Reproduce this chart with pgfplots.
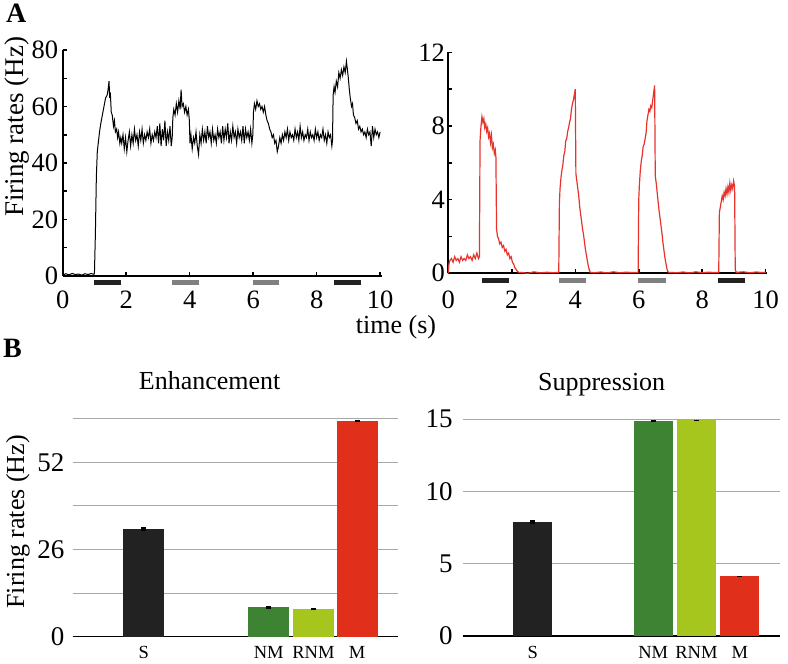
\documentclass[border=0pt]{standalone}
\usepackage{pgfplots}
\pgfplotsset{compat=1.18}
\usepackage{fontspec}
\setmainfont{Liberation Serif}
\definecolor{cS}{HTML}{222222}
\definecolor{cNM}{HTML}{3E8233}
\definecolor{cRNM}{HTML}{A6C61E}
\definecolor{cM}{HTML}{E0301C}
\definecolor{cRed}{HTML}{E8322C}
\definecolor{cGray}{HTML}{808080}
\definecolor{cGrid}{HTML}{A8A8A8}
\newcommand\fs[1]{\fontsize{#1}{#1}\selectfont}
\pgfplotsset{
 traceax/.style={
  scale only axis, axis x line=bottom, axis y line=left,
  axis line style={-, line width=2pt, black},
  tick align=inside, major tick length=4pt, minor tick length=4pt,
  tick style={black, line width=1.5pt},
  xmin=0, xmax=10.05, ymin=0, xtick={0,2,...,10},
  clip=false,
  /pgf/number format/assume math mode=true,
  ticklabel style={font=\fs{26.5}, inner sep=1pt},
  xticklabel style={anchor=center},
  yticklabel style={anchor=east},
 },
 barax/.style={
  scale only axis, axis x line=bottom, axis y line=left,
  x axis line style={-, line width=1.3pt, black},
  y axis line style={draw=none},
  ymajorgrids, grid style={cGrid, line width=0.9pt},
  ytick style={draw=none}, xtick style={draw=none},
  ymin=0, clip=false,
  /pgf/number format/assume math mode=true,
  yticklabel style={font=\fs{27}, inner sep=1pt, anchor=east},
  xticklabel style={font=\fs{18.5}, inner sep=1pt, anchor=center},
 },
 barplot/.style={ybar, bar shift=0pt, draw=none, fill=#1,
  error bars/.cd, y dir=both, y explicit, error bar style={line width=5pt, black}, error mark=none},
}
\begin{document}
\begin{tikzpicture}
\path[use as bounding box] (0pt,0pt) rectangle (788pt,664pt);
% ---------------- A left ----------------
\begin{axis}[traceax, at={(62.7pt,388pt)}, anchor=south west, width=319pt, height=226pt,
  ymax=80, ytick={0,20,...,80}, minor ytick={10,30,50,70},
  xticklabel style={yshift=-24pt}, yticklabel style={xshift=-3.4pt}]
\addplot[black, line width=1pt] coordinates {
(0,0.3)(0.1,0.8)(0.2,0.4)(0.3,0.9)(0.4,0.5)(0.5,0.7)(0.6,0.3)(0.7,0.8)(0.8,0.5)(0.9,0.9)(0.98,0.6)
(1.00,1)(1.03,15)(1.06,35)(1.09,44)(1.12,47)(1.16,51)(1.20,54)(1.25,57)(1.30,60)(1.35,63)(1.40,64)(1.43,66)(1.46,69)(1.48,63)(1.50,65)(1.53,58)(1.56,57)(1.60,53)(1.63,55)(1.66,51)(1.70,52)(1.73,49)(1.76,51)(1.80,47)(1.83,49)
(1.86,47)(1.90,50)(1.94,45)(1.98,49)(2.02,44)(2.06,48)(2.10,51)(2.14,46)(2.18,50)(2.22,47)(2.26,52)(2.30,48)(2.34,50)(2.38,46)(2.42,51)(2.46,48)(2.50,52)(2.54,47)(2.58,50)(2.62,48)(2.66,51)(2.70,49)(2.74,52)(2.78,47)(2.82,50)(2.86,48)(2.90,51)(2.94,49)(2.98,53)(3.02,47)(3.06,54)(3.10,46)(3.14,52)(3.18,48)(3.22,55)(3.26,46)(3.30,51)(3.34,48)(3.38,53)(3.42,46)(3.45,49)
(3.47,56)(3.50,59)(3.54,57)(3.58,61)(3.62,58)(3.66,62)(3.70,59)(3.73,66)(3.76,60)(3.80,61)(3.84,58)(3.88,60)(3.92,57)(3.96,59)(3.99,55)
(4.01,47)(4.04,50)(4.08,45)(4.12,49)(4.16,47)(4.20,51)(4.24,46)(4.28,43)(4.32,50)(4.36,47)(4.40,52)(4.44,48)(4.48,51)(4.52,47)(4.56,53)(4.60,49)(4.64,51)(4.68,47)(4.72,52)(4.76,48)(4.80,50)(4.84,47)(4.88,52)(4.92,49)(4.96,51)(5.00,47)(5.04,53)(5.08,48)(5.12,52)(5.16,49)(5.20,54)(5.24,47)(5.28,51)(5.32,48)(5.36,53)(5.40,49)(5.44,51)(5.48,47)(5.52,52)(5.56,49)(5.60,51)(5.64,48)(5.68,53)(5.72,47)(5.76,52)(5.80,49)(5.84,51)(5.88,48)(5.92,52)(5.96,47)(5.99,50)
(6.01,58)(6.04,61)(6.08,59)(6.12,62)(6.16,60)(6.20,61)(6.24,59)(6.28,60)(6.32,58)(6.36,60)(6.40,57)(6.44,55)(6.48,54)(6.52,52)(6.56,51)(6.60,49)(6.64,50)(6.68,47)(6.72,48)(6.76,44)(6.80,46)(6.84,49)(6.88,47)(6.92,50)(6.96,48)(7.00,51)(7.04,49)(7.08,52)(7.12,48)(7.16,51)(7.20,49)(7.24,50)(7.28,48)(7.32,52)(7.36,49)(7.40,51)(7.44,48)(7.48,53)(7.52,49)(7.56,51)(7.60,48)(7.64,50)(7.68,49)(7.72,52)(7.76,48)(7.80,51)(7.84,49)(7.88,50)(7.92,48)(7.96,52)(8.00,49)(8.04,51)(8.08,48)(8.12,50)(8.16,49)(8.20,52)(8.24,48)(8.28,50)(8.32,47)(8.36,51)(8.40,49)(8.44,50)(8.48,46)(8.50,48)
(8.52,64)(8.55,67)(8.58,65)(8.62,69)(8.66,67)(8.70,72)(8.74,70)(8.78,73)(8.82,71)(8.86,74)(8.90,72)(8.94,76)(8.97,73)(9.00,70)(9.03,66)(9.06,63)(9.10,60)(9.13,61)(9.16,57)(9.20,56)(9.24,54)(9.28,55)(9.32,52)(9.36,53)(9.40,51)(9.44,52)(9.48,50)(9.52,51)(9.56,49)(9.60,52)(9.64,50)(9.68,51)(9.72,46)(9.76,53)(9.80,49)(9.84,52)(9.88,50)(9.92,51)(9.96,49)(10.00,51)
};
\addplot[cS, line width=5pt] coordinates {(1,-2.3)(1.85,-2.3)};
\addplot[cGray, line width=5pt] coordinates {(3.45,-2.3)(4.3,-2.3)};
\addplot[cGray, line width=5pt] coordinates {(5.98,-2.3)(6.8,-2.3)};
\addplot[cS, line width=5pt] coordinates {(8.55,-2.3)(9.39,-2.3)};
\node[font=\bfseries\fs{28}] at (axis description cs:-0.146,1.164) {A};
\node[font=\fs{27}, rotate=90, anchor=center, inner sep=1pt] at (axis description cs:-0.1417,0.66) {Firing rates (Hz)};
\node[font=\fs{26}, anchor=center, inner sep=1pt] at (axis description cs:1.045,-0.2257) {time (s)};
\end{axis}
% ---------------- A right ----------------
\begin{axis}[traceax, at={(448.3pt,390.7pt)}, anchor=south west, width=319pt, height=221pt,
  ymax=12, ytick={0,4,8,12}, minor ytick={2,6,10},
  xticklabel style={yshift=-26.7pt}, yticklabel style={xshift=-2.3pt}]
\addplot[cRed, line width=1.2pt] coordinates {
(0.00,0.0)(0.02,0.5)(0.05,0.7)(0.10,0.8)(0.15,0.6)(0.20,0.9)(0.25,0.7)(0.30,0.8)(0.35,0.6)(0.40,0.9)(0.45,0.7)(0.50,0.8)(0.55,0.7)(0.60,1.0)(0.65,0.8)(0.70,0.9)(0.75,0.7)(0.80,1.0)(0.85,0.8)(0.90,1.1)(0.95,0.8)(0.98,0.9)
(1.00,7.2)(1.03,8.0)(1.06,8.5)(1.09,8.2)(1.12,8.4)(1.15,7.9)(1.18,8.1)(1.21,7.7)(1.24,7.9)(1.27,7.4)(1.30,7.6)(1.33,7.1)(1.36,7.5)(1.39,6.8)(1.42,7.0)(1.45,6.5)(1.48,6.7)(1.50,6.3)
(1.52,2.4)(1.55,2.0)(1.58,1.9)(1.62,1.6)(1.66,1.7)(1.70,1.4)(1.74,1.5)(1.78,1.2)(1.82,1.3)(1.86,1.0)(1.90,1.1)(1.94,0.8)(1.98,0.9)(2.02,0.6)(2.06,0.5)(2.10,0.3)(2.14,0.2)(2.18,0.1)(2.22,0.05)
(2.3,0.05)(2.5,0.0)(2.7,0.08)(2.9,0.02)(3.1,0.06)(3.3,0.03)(3.48,0.05)
(3.50,3.8)(3.52,4.6)(3.55,5.2)(3.58,5.6)(3.61,5.9)(3.64,6.4)(3.67,6.6)(3.70,7.2)(3.73,7.3)(3.76,7.7)(3.79,7.9)(3.82,8.2)(3.85,8.4)(3.88,8.9)(3.91,9.2)(3.94,9.4)(3.97,9.7)(4.00,10.0)
(4.02,5.4)(4.05,5.0)(4.08,4.6)(4.11,4.2)(4.14,3.6)(4.17,3.2)(4.20,2.8)(4.23,2.4)(4.26,2.1)(4.29,1.7)(4.32,1.3)(4.35,1.0)(4.38,0.7)(4.41,0.4)(4.44,0.2)(4.47,0.05)
(4.6,0.03)(4.8,0.07)(5.0,0.02)(5.2,0.08)(5.4,0.03)(5.6,0.06)(5.8,0.04)(5.98,0.05)
(6.00,4.0)(6.02,4.8)(6.05,5.6)(6.08,6.1)(6.11,6.4)(6.14,6.9)(6.17,7.0)(6.20,7.3)(6.23,7.6)(6.26,8.3)(6.29,8.6)(6.32,8.9)(6.35,8.8)(6.38,9.1)(6.41,9.0)(6.44,9.4)(6.47,9.8)(6.50,10.2)
(6.52,5.3)(6.55,4.9)(6.58,4.4)(6.61,3.9)(6.64,3.4)(6.67,3.0)(6.70,2.6)(6.73,2.2)(6.76,1.7)(6.79,1.3)(6.82,0.9)(6.85,0.6)(6.88,0.3)(6.91,0.1)(6.95,0.05)
(7.2,0.03)(7.4,0.07)(7.6,0.02)(7.8,0.08)(8.0,0.03)(8.2,0.06)(8.4,0.04)(8.52,0.05)
(8.54,3.3)(8.57,3.6)(8.60,3.9)(8.63,4.2)(8.66,4.0)(8.69,4.4)(8.72,4.2)(8.75,4.6)(8.78,4.3)(8.81,4.7)(8.84,4.4)(8.87,4.9)(8.90,4.5)(8.93,4.8)(8.96,4.6)(8.99,5.0)(9.02,4.7)
(9.04,0.2)(9.07,0.05)(9.3,0.08)(9.5,0.03)(9.7,0.07)(9.9,0.04)(10.0,0.06)
};
\addplot[cS, line width=5pt] coordinates {(1.05,-0.38)(1.92,-0.38)};
\addplot[cGray, line width=5pt] coordinates {(3.48,-0.38)(4.34,-0.38)};
\addplot[cGray, line width=5pt] coordinates {(5.98,-0.38)(6.85,-0.38)};
\addplot[cS, line width=5pt] coordinates {(8.5,-0.38)(9.35,-0.38)};
\end{axis}
% ---------------- B left ----------------
\begin{axis}[barax, at={(72.7pt,27.3pt)}, anchor=south west, width=325.3pt, height=218pt,
  xmin=-1.606, xmax=5.753, ymax=65, ytick={0,13,26,39,52,65}, yticklabels={0,,26,,52,},
  xtick={0,2.83,3.84,4.83}, xticklabels={S,NM,RNM,M},
  xticklabel style={yshift=-14pt}, yticklabel style={xshift=-5pt}]
\addplot[bar width=0.92, barplot=cS] coordinates {(0,32.2) +- (0,0.6)};
\addplot[bar width=0.92, barplot=cNM] coordinates {(2.83,8.8) +- (0,0.45)};
\addplot[bar width=0.92, barplot=cRNM] coordinates {(3.84,8.2) +- (0,0.3)};
\addplot[bar width=0.92, barplot=cM] coordinates {(4.83,64.4) +- (0,0.3)};
\node[font=\bfseries\fs{28}] at (axis description cs:-0.185,1.324) {B};
\node[font=\fs{26}, rotate=90, anchor=center, inner sep=1pt] at (axis description cs:-0.1681,0.527) {Firing rates (Hz)};
\node[font=\fs{26}, anchor=base, inner sep=1pt] at (axis description cs:0.421,1.1317) {Enhancement};
\end{axis}
% ---------------- B right ----------------
\begin{axis}[barax, at={(462.7pt,28pt)}, anchor=south west, width=317.3pt, height=217pt,
  xmin=-1.62, xmax=5.71, ymax=15, ytick={0,5,10,15},
  xtick={0,2.78,3.78,4.78}, xticklabels={S,NM,RNM,M},
  xticklabel style={yshift=-14.5pt}, yticklabel style={xshift=-6.7pt}]
\addplot[bar width=0.9, barplot=cS] coordinates {(0,7.86) +- (0,0.15)};
\addplot[bar width=0.9, barplot=cNM] coordinates {(2.78,14.86) +- (0,0.06)};
\addplot[bar width=0.9, barplot=cRNM] coordinates {(3.78,14.9) +- (0,0.06)};
\addplot[bar width=0.9, barplot=cM] coordinates {(4.78,4.12) +- (0,0.06)};
\node[font=\fs{26}, anchor=base, inner sep=1pt] at (axis description cs:0.438,1.1336) {Suppression};
\end{axis}
\end{tikzpicture}
\end{document}
